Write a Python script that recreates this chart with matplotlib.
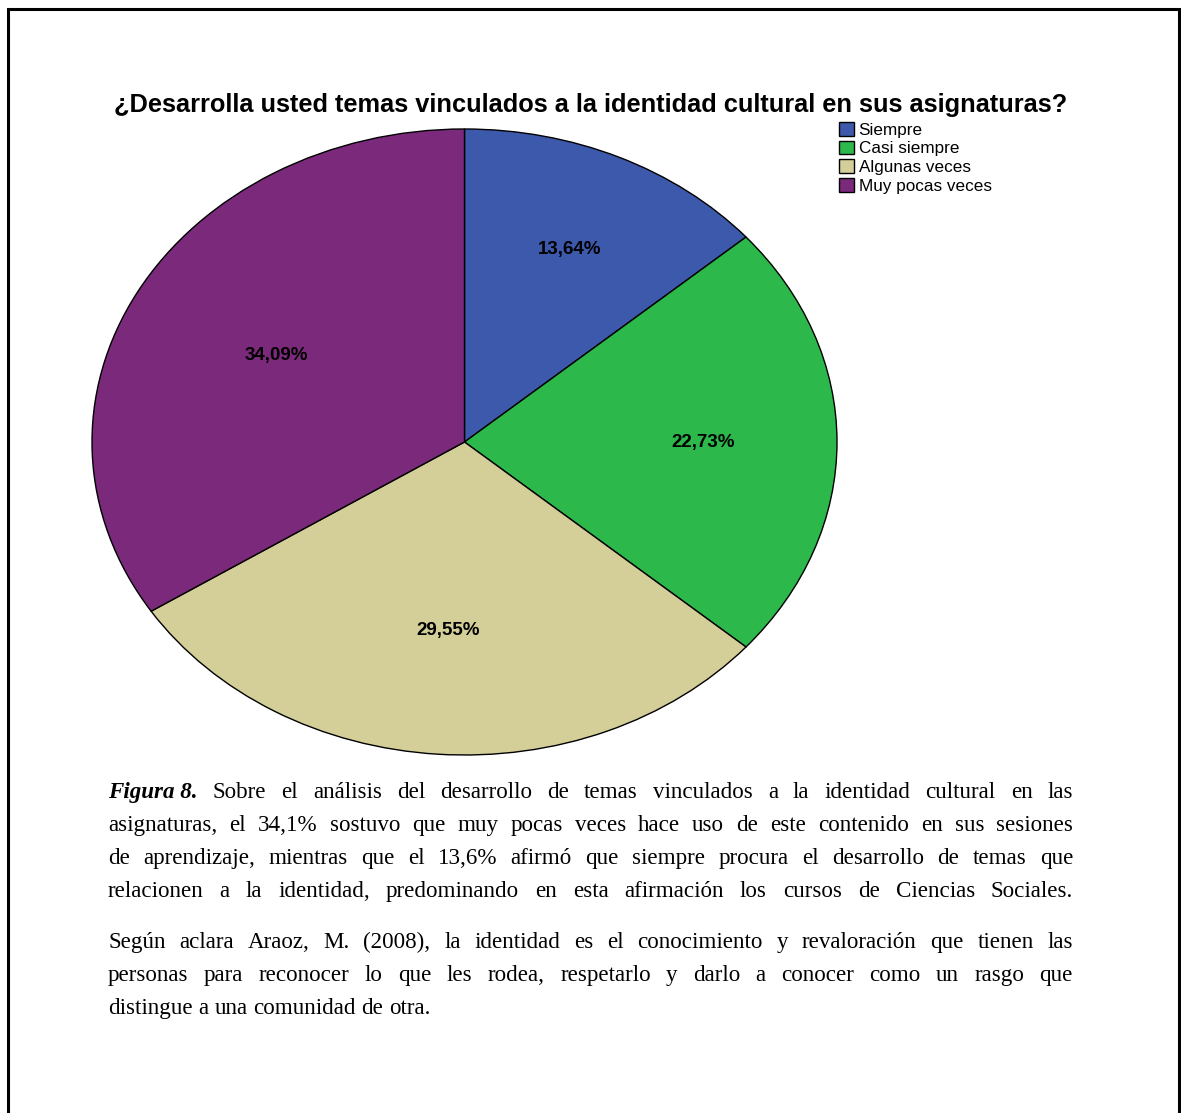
import matplotlib
matplotlib.use("Agg")
import matplotlib.pyplot as plt
from matplotlib.patches import Rectangle
import numpy as np

# ---------------- data ----------------
categories = ["Siempre", "Casi siempre", "Algunas veces", "Muy pocas veces"]
counts = [6, 10, 13, 15]
colors = ["#3D59AB", "#2DB84B", "#D4CE98", "#7B297B"]
title = "¿Desarrolla usted temas vinculados a la identidad cultural en sus asignaturas?"

para1_lead = "Figura 8."
para1_lines = [
    "Sobre el análisis del desarrollo de temas vinculados a la identidad cultural en las",
    "asignaturas, el 34,1% sostuvo que muy pocas veces hace uso de este contenido en sus sesiones",
    "de aprendizaje, mientras que el 13,6% afirmó que siempre procura el desarrollo de temas que",
    "relacionen a la identidad, predominando en esta afirmación los cursos de Ciencias Sociales.",
]
para2_lines = [
    "Según aclara Araoz, M. (2008), la identidad es el conocimiento y revaloración que tienen las",
    "personas para reconocer lo que les rodea, respetarlo y darlo a conocer como un rasgo que",
    "distingue a una comunidad de otra.",
]

W, H = 1181, 1113
fig = plt.figure(figsize=(W / 100, H / 100), dpi=100)
fig.patch.set_facecolor("white")

def fx(px):
    return px / W

def fy(py):
    return 1 - py / H

# border frame
fig.patches.append(Rectangle((fx(8), fy(1125)), fx(1179) - fx(8), fy(9) - fy(1125),
                             transform=fig.transFigure, fill=False, edgecolor="black",
                             linewidth=2.2, zorder=10))

# pie (ellipse): axes exactly covers the ellipse bounding box
left, right, top, bottom = 92, 837, 129, 755
ax = fig.add_axes([fx(left), fy(bottom), fx(right) - fx(left), fy(top) - fy(bottom)])
wedges, texts, autotexts = ax.pie(
    counts, colors=colors, startangle=90, counterclock=False,
    autopct=lambda p: f"{p:.2f}%".replace(".", ","), pctdistance=0.64,
    wedgeprops=dict(edgecolor="black", linewidth=1.0),
    textprops=dict(fontsize=13.5, fontweight="bold", color="black", family="Liberation Sans"),
)
# place labels near each wedge's centroid
for w, t in zip(wedges, autotexts):
    half = np.deg2rad(abs(w.theta2 - w.theta1) / 2)
    mid = np.deg2rad((w.theta1 + w.theta2) / 2)
    r = (2 / 3) * np.sin(half) / half + 0.03
    t.set_position((r * np.cos(mid), r * np.sin(mid)))
ax.set_aspect("auto")
ax.set_xlim(-1.0, 1.0)
ax.set_ylim(-1.0, 1.0)
ax.axis("off")

fig.text(fx(591), fy(105), title, ha="center", va="center", fontsize=18.3,
         fontweight="bold", family="Liberation Sans")

fig.legend(wedges, categories, loc="upper left", bbox_to_anchor=(fx(839), fy(122)),
           frameon=False, handlelength=0.85, handleheight=0.85,
           handletextpad=0.3, labelspacing=0.17, borderpad=0, borderaxespad=0,
           prop=dict(family="Liberation Sans", size=12.3))

# ---------------- justified caption text ----------------
renderer = fig.canvas.get_renderer()
X0, X1 = 108, 1073
FS = 16.6
serif = "Liberation Serif"

def text_width(s, **kw):
    t = fig.text(0, 0, s, fontsize=FS, family=serif, **kw)
    w = t.get_window_extent(renderer).width
    t.remove()
    return w

SPACE = text_width("a b") - text_width("ab")

def draw_line(words, y, justify, lead=None):
    items = []
    if lead:
        items.append(fig.text(0, fy(y), lead, fontsize=FS, family=serif, fontweight="bold",
                              fontstyle="italic", va="baseline", ha="left"))
    for w in words:
        items.append(fig.text(0, fy(y), w, fontsize=FS, family=serif, va="baseline", ha="left"))
    widths = [t.get_window_extent(renderer).width for t in items]
    if justify and len(items) > 1:
        gap = (X1 - X0 - sum(widths)) / (len(items) - 1)
    else:
        gap = SPACE
    x = X0
    for t, w in zip(items, widths):
        t.set_x(fx(x))
        x += w + gap

base1 = 798
for i, line in enumerate(para1_lines):
    draw_line(line.split(" "), base1 + 33 * i, justify=True,
              lead=para1_lead if i == 0 else None)
base2 = 948
for i, line in enumerate(para2_lines):
    draw_line(line.split(" "), base2 + 33 * i, justify=(i < len(para2_lines) - 1))

fig.savefig("out.png", dpi=100, facecolor="white")
